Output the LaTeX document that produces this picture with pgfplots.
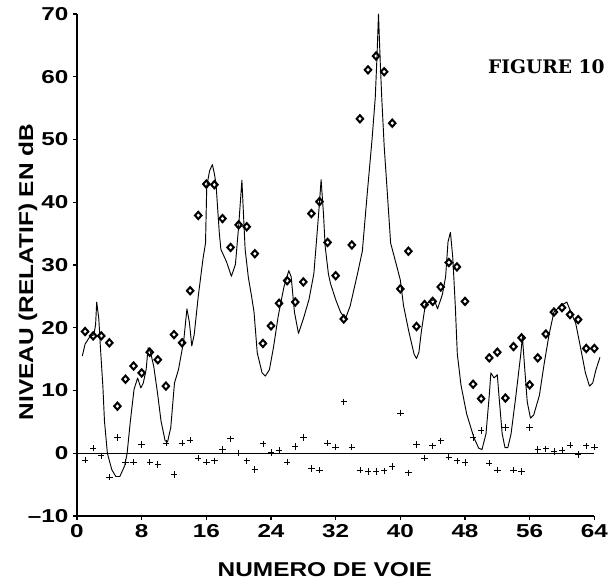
\documentclass[border=0pt]{standalone}
\usepackage{pgfplots}
\pgfplotsset{compat=1.18}
\usepackage{fontspec}
\setmainfont{Liberation Sans}
\newfontfamily\ticksans{Liberation Sans}[FakeStretch=1.3]
\newfontfamily\labsans{Liberation Sans}[FakeStretch=1.22]
\newfontfamily\figserif{DejaVu Serif}
\begin{document}
\begin{tikzpicture}
\path[use as bounding box] (-57.75pt,-50.25pt) rectangle (401.25pt,387pt);
\begin{axis}[
  scale only axis, width=388pt, height=376.5pt,
  xmin=0, xmax=64, ymin=-10, ymax=70,
  axis lines=left, axis line style={-, line width=0.9pt},
  xtick={0,8,...,64}, ytick={-10,0,...,70},
  xticklabels={0,8,16,24,32,40,48,56,64},
  yticklabels={\textendash10,0,10,20,30,40,50,60,70},
  tick align=outside, major tick length=3pt, tick style={black, line width=0.8pt},
  tick label style={font=\ticksans\bfseries\fontsize{14}{16}\selectfont},
  xlabel={NUMERO DE VOIE}, ylabel={NIVEAU (RELATIF) EN dB},
  label style={font=\labsans\bfseries\fontsize{15}{17}\selectfont},
  xlabel style={at={(axis description cs:0.479,-0.1076)}, anchor=center},
  ylabel style={at={(axis description cs:-0.0947,0.486)}, anchor=center},
  clip=false,
]
\addplot[black, line width=0.6pt] coordinates {(0,0) (64,0)};
\addplot[black, line width=0.7pt, line join=round] coordinates {
(0.66,15.5) (1.0,17.4) (1.6,18.6) (2.1,18.9) (2.3,20.5) (2.44,24.1) (2.7,21.4) (2.9,16.8)
(3.2,10.7) (3.4,5.1) (3.76,0) (4.3,-2.6) (4.8,-3.7) (5.3,-3.7) (5.9,-2.0) (6.2,0)
(6.6,5.1) (7.06,10.2) (7.5,12.0) (7.9,10.4) (8.2,11.2) (8.55,13.3) (8.8,16.8) (9.1,16.1)
(9.5,13.8) (9.95,9.7) (10.4,5.1) (10.9,2.0) (11.2,1.8) (11.6,4.1) (12.06,11.2) (12.55,13.3)
(13.2,17.9) (13.6,23.0) (13.9,20.9) (14.2,17.1) (14.5,18.9) (15.0,25.0) (15.6,31.1) (15.9,33.5)
(16.05,42.5) (16.4,45.0) (16.75,46.0) (17.0,44.5) (17.2,42.9) (17.6,35.2) (17.8,32.5) (18.5,30.5)
(19.1,28.2) (19.6,30.1) (20.0,36.2) (20.4,43.5) (20.6,38.0) (20.8,32.5) (21.2,28.0) (21.6,25.0)
(21.9,22.5) (22.3,16.0) (22.9,12.8) (23.3,12.3) (23.8,13.3) (24.3,16.8) (24.9,21.9) (25.6,26.5)
(26.2,29.1) (26.5,28.1) (26.9,22.5) (27.4,19.1) (28.0,21.4) (28.7,24.5) (29.3,28.6) (29.7,35.0)
(30.0,40.0) (30.2,43.6) (30.5,38.0) (30.7,33.0) (31.1,28.6) (31.35,27.1) (32.0,24.5) (32.6,22.5)
(33.2,21.4) (33.8,23.5) (34.7,28.6) (35.3,32.2) (35.9,41.3) (36.5,50.0) (36.9,56.7) (37.1,62.8)
(37.3,70.0) (37.5,62.8) (37.7,56.7) (38.0,49.0) (38.4,41.3) (38.8,33.5) (39.6,29.6) (40.0,27.6)
(40.4,23.5) (41.05,19.4) (41.7,15.8) (42.0,15.1) (42.3,16.1) (42.6,19.4) (43.1,23.7) (43.7,24.2)
(44.2,24.5) (44.6,23.0) (45.2,25.3) (45.6,28.1) (45.9,33.7) (46.2,35.2) (46.5,31.0) (46.8,23.5)
(47.05,15.8) (47.5,10.9) (48.2,6.3) (49.1,2.5) (49.7,0.8) (50.1,0.6) (50.6,3.1) (51.0,9.2)
(51.2,12.8) (51.6,12.0) (52.0,12.5) (52.2,9.2) (52.6,3.1) (52.95,0.9) (53.3,0.9) (53.7,3.1)
(54.3,9.2) (54.9,15.8) (55.1,18.6) (55.4,13.3) (55.7,8.2) (56.1,5.6) (56.5,6.1) (57.2,9.2)
(57.8,14.3) (58.4,18.9) (59.0,22.5) (59.85,23.5) (60.6,24.1) (61.1,22.5) (61.7,20.7) (62.3,16.8)
(62.9,12.8) (63.4,10.7) (63.8,11.2) (64.2,13.3) (64.7,15.3)
};
\addplot[only marks, mark=diamond, mark size=2.7pt, mark options={line width=1.5pt, fill=white, xscale=1.2}] coordinates {
(1,19.4) (2,18.7) (3,18.7) (4,17.6) (5,7.5) (6,11.8) (7,13.9) (8,12.8)
(9,16.1) (10,14.9) (11,10.7) (12,18.9) (13,17.6) (14,25.9) (15,37.9) (16,42.9)
(17,42.8) (18,37.4) (19,32.8) (20,36.4) (21,36.1) (22,31.8) (23,17.5) (24,20.3)
(25,23.9) (26,27.5) (27,24.1) (28,27.3) (29,38.2) (30,40.1) (31,33.6) (32,28.3)
(33,21.4) (34,33.2) (35,53.3) (36,61.1) (37,63.3) (38,60.8) (39,52.6) (40,26.2)
(41,32.2) (42,20.2) (43,23.7) (44,24.2) (45,26.5) (46,30.4) (47,29.7) (48,24.2)
(49,11.0) (50,8.7) (51,15.2) (52,16.1) (53,8.8) (54,17.0) (55,18.4) (56,10.9)
(57,15.2) (58,19.0) (59,22.5) (60,23.2) (61,22.1) (62,21.3) (63,16.7) (64,16.7)
};
\addplot[only marks, mark=+, mark size=2.4pt, mark options={line width=0.6pt}] coordinates {
(1,-1.1) (2,0.8) (3,-0.4) (4,-3.8) (5,2.5) (6,-1.4) (7,-1.4) (8,1.4)
(9,-1.4) (10,-1.8) (11,1.6) (12,-3.4) (13,1.6) (14,2.1) (15,-0.8) (16,-1.4)
(17,-1.2) (18,0.6) (19,2.3) (20,0.0) (21,-1.2) (22,-2.6) (23,1.5) (24,0.1)
(25,0.5) (26,-1.4) (27,1.1) (28,2.5) (29,-2.4) (30,-2.7) (31,1.6) (32,1.0)
(33,8.2) (34,1.0) (35,-2.7) (36,-2.9) (37,-2.9) (38,-2.8) (39,-2.1) (40,6.4)
(41,-3.1) (42,1.4) (43,-0.8) (44,1.2) (45,2.0) (46,-0.6) (47,-1.2) (48,-1.5)
(49,2.5) (50,3.6) (51,-1.6) (52,-2.7) (53,4.1) (54,-2.7) (55,-2.9) (56,4.1)
(57,0.6) (58,0.7) (59,0.3) (60,0.5) (61,1.3) (62,-0.2) (63,1.2) (64,1.0)
};
\node[font=\figserif\bfseries\fontsize{14}{16}\selectfont] at (axis cs:58.06,61.6) {FIGURE 10};
\end{axis}
\end{tikzpicture}
\end{document}
